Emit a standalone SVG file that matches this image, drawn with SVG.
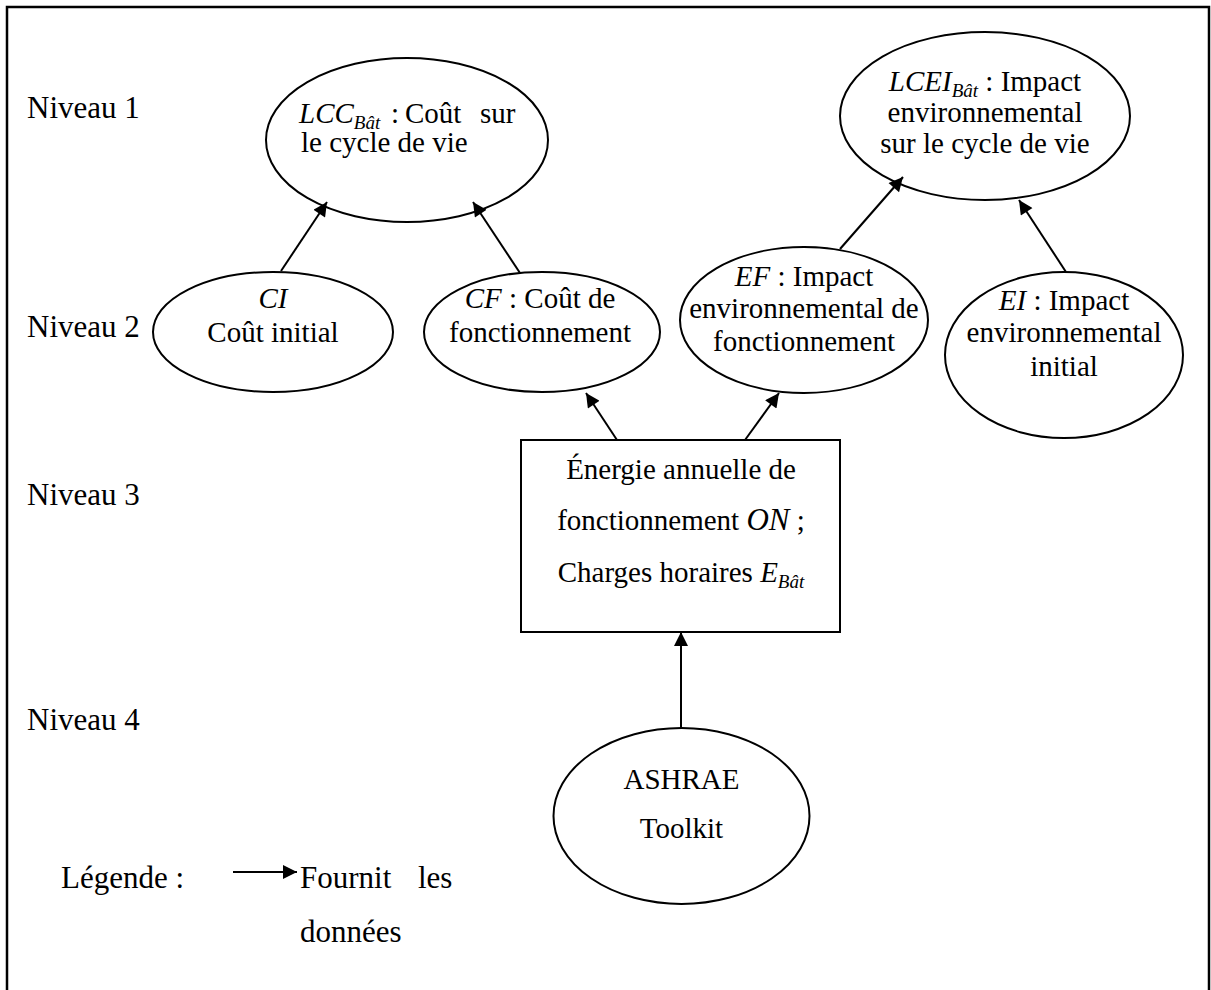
<svg xmlns="http://www.w3.org/2000/svg" width="1211" height="990" viewBox="0 0 1211 990" font-family="'Liberation Serif', 'Times New Roman', 'DejaVu Serif', serif">
<style>
text{font-family:'Liberation Serif','Times New Roman','DejaVu Serif',serif;font-size:29px;fill:#000}
.lvl{font-size:31px}
.i{font-style:italic}
.sub{font-style:italic;font-size:19px}
.c{text-anchor:middle}
.shape{fill:#fff;stroke:#000;stroke-width:2}
.conn line{stroke:#000;stroke-width:2;marker-end:url(#ah)}
</style>
<defs>
<marker id="ah" viewBox="0 0 10 10" refX="10" refY="5" markerWidth="16" markerHeight="14" markerUnits="userSpaceOnUse" orient="auto">
<path d="M0,0 L10,5 L0,10 z" fill="#000"/>
</marker>
</defs>
<rect x="7" y="7" width="1202" height="1010" fill="#fff" stroke="#000" stroke-width="2.5"/>

<g id="levels">
<text class="lvl" x="27" y="118">Niveau 1</text>
<text class="lvl" x="27" y="337">Niveau 2</text>
<text class="lvl" x="27" y="505">Niveau 3</text>
<text class="lvl" x="27" y="730">Niveau 4</text>
</g>

<g id="lcc">
<ellipse class="shape" cx="407" cy="140" rx="141" ry="82"/>
<text x="299" y="123"><tspan class="i">LCC</tspan><tspan class="sub" dy="6">Bât</tspan><tspan x="391" dy="-6">:</tspan><tspan x="405">Coût</tspan><tspan x="480">sur</tspan></text>
<text x="301" y="152">le cycle de vie</text>
</g>

<g id="lcei">
<ellipse class="shape" cx="985" cy="116" rx="145" ry="84"/>
<text class="c" x="985" y="91"><tspan class="i">LCEI</tspan><tspan class="sub" dy="6">Bât</tspan><tspan dy="-6"> : Impact</tspan></text>
<text class="c" x="985" y="122">environnemental</text>
<text class="c" x="985" y="153">sur le cycle de vie</text>
</g>

<g id="ci">
<ellipse class="shape" cx="273" cy="332" rx="120" ry="60"/>
<text class="c i" x="273" y="308">CI</text>
<text class="c" x="273" y="342">Coût initial</text>
</g>

<g id="cf">
<ellipse class="shape" cx="542" cy="332" rx="118" ry="60"/>
<text class="c" x="540" y="308"><tspan class="i">CF</tspan> : Coût de</text>
<text class="c" x="540" y="342">fonctionnement</text>
</g>

<g id="ef">
<ellipse class="shape" cx="804" cy="320" rx="124" ry="73"/>
<text class="c" x="804" y="286"><tspan class="i">EF</tspan> : Impact</text>
<text class="c" x="804" y="318">environnemental de</text>
<text class="c" x="804" y="351">fonctionnement</text>
</g>

<g id="ei">
<ellipse class="shape" cx="1064" cy="355" rx="119" ry="83"/>
<text class="c" x="1064" y="310"><tspan class="i">EI</tspan> : Impact</text>
<text class="c" x="1064" y="342">environnemental</text>
<text class="c" x="1064" y="376">initial</text>
</g>

<g id="energie">
<rect class="shape" x="521" y="440" width="319" height="192"/>
<text class="c" x="681" y="479">Énergie annuelle de</text>
<text class="c" x="681" y="530">fonctionnement <tspan class="i" font-size="31">ON</tspan> ;</text>
<text class="c" x="681" y="582">Charges horaires <tspan class="i">E</tspan><tspan class="sub" dy="6">Bât</tspan></text>
</g>

<g id="ashrae">
<ellipse class="shape" cx="681.5" cy="816" rx="128" ry="88"/>
<text class="c" x="681.5" y="789">ASHRAE</text>
<text class="c" x="681.5" y="838">Toolkit</text>
</g>

<g id="connectors" class="conn">
<line x1="281" y1="271" x2="327" y2="202"/>
<line x1="520" y1="273" x2="473" y2="202"/>
<line x1="840" y1="249" x2="903" y2="177"/>
<line x1="1066" y1="272" x2="1019" y2="200"/>
<line x1="617" y1="440" x2="586" y2="393"/>
<line x1="745" y1="440" x2="779" y2="393"/>
<line x1="681" y1="728" x2="681" y2="632"/>
</g>

<g id="legend" class="conn">
<text class="lvl" x="61" y="888">Légende :</text>
<line x1="233" y1="872" x2="297" y2="872"/>
<text class="lvl" x="300" y="888">Fournit</text>
<text class="lvl" x="418" y="888">les</text>
<text class="lvl" x="300" y="942">données</text>
</g>
</svg>
